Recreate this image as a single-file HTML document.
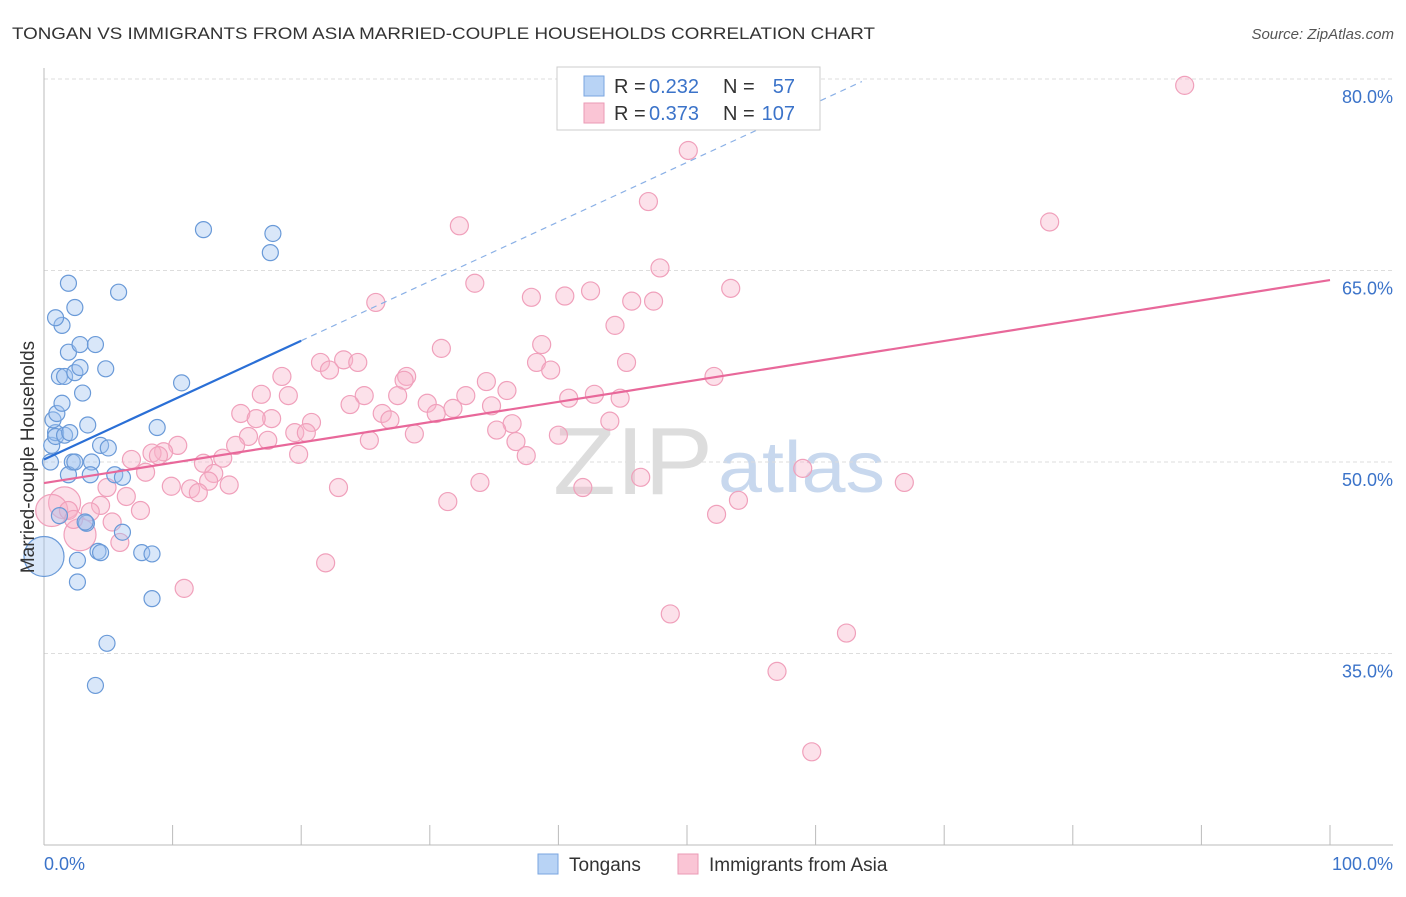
<!DOCTYPE html>
<html><head><meta charset="utf-8">
<style>
body{margin:0;background:#fff;font-family:"Liberation Sans",sans-serif;}
svg text{font-family:"Liberation Sans",sans-serif;}
</style></head>
<body>
<svg id="chart" width="1406" height="892" xmlns="http://www.w3.org/2000/svg">
<text x="12" y="39" font-size="17" fill="#333" textLength="863" lengthAdjust="spacingAndGlyphs">TONGAN VS IMMIGRANTS FROM ASIA MARRIED-COUPLE HOUSEHOLDS CORRELATION CHART</text>
<text x="1394" y="39" font-size="15" fill="#555" font-style="italic" text-anchor="end">Source: ZipAtlas.com</text>
<text x="553" y="494" font-size="96" fill="#ddd" font-family="Liberation Serif" textLength="160" lengthAdjust="spacingAndGlyphs">ZIP</text>
<text x="718" y="492" font-size="72" fill="#c8d8ee" textLength="167" lengthAdjust="spacingAndGlyphs">atlas</text>
<g id="grid"></g><g id="axes"></g><g id="pts"></g><g id="lines"></g>
<text transform="translate(34,457) rotate(-90)" font-size="19" fill="#333" text-anchor="middle">Married-couple Households</text>
<g>
<rect x="557" y="67" width="263" height="63" fill="#fff" stroke="#ccc"/>
<rect x="584" y="76" width="20" height="20" fill="#b8d3f5" stroke="#7aa6e0"/>
<rect x="584" y="103" width="20" height="20" fill="#fac5d5" stroke="#eb9ab5"/>
<text x="614" y="93" font-size="20" fill="#333">R =</text><text x="649" y="93" font-size="20" fill="#3b73c9">0.232</text>
<text x="723" y="93" font-size="20" fill="#333">N =</text><text x="795" y="93" font-size="20" fill="#3b73c9" text-anchor="end">57</text>
<text x="614" y="120" font-size="20" fill="#333">R =</text><text x="649" y="120" font-size="20" fill="#3b73c9">0.373</text>
<text x="723" y="120" font-size="20" fill="#333">N =</text><text x="795" y="120" font-size="20" fill="#3b73c9" text-anchor="end">107</text>
</g>
<g>
<rect x="538" y="854" width="20" height="20" fill="#b8d3f5" stroke="#7aa6e0"/>
<text x="569" y="871" font-size="19" fill="#333">Tongans</text>
<rect x="678" y="854" width="20" height="20" fill="#fac5d5" stroke="#eb9ab5"/>
<text x="709" y="871" font-size="19" fill="#333">Immigrants from Asia</text>
</g>
</svg>
<script>
const yTicks=[35,50,65,80];
const blueX=[0,0.5,0.6,0.9,0.7,1.0,1.4,0.9,1.6,2.0,2.2,1.9,2.4,1.2,1.6,2.4,2.8,1.9,2.8,4.0,4.8,1.4,0.9,2.4,1.9,5.8,3.0,3.4,3.7,3.6,4.4,5.0,5.5,6.1,3.3,4.2,4.4,2.6,2.6,6.1,7.6,8.4,8.4,4.9,4.0,10.7,8.8,12.4,17.8,17.6,1.2,3.2];
const blueY=[42.6,50,51.3,52.3,53.3,53.8,54.6,52.0,52.1,52.3,50,49.0,50,56.7,56.7,57.0,57.4,58.6,59.2,59.2,57.3,60.7,61.3,62.1,64.0,63.3,55.4,52.9,50,49.0,51.3,51.1,49.0,48.8,45.2,43.0,42.9,42.3,40.6,44.5,42.9,42.8,39.3,35.8,32.5,56.2,52.7,68.2,67.9,66.4,45.8,45.3];
const pinkX=[88.7,50.1,47.0,78.2,32.3,47.9,33.5,42.5,53.4,37.9,40.5,45.7,47.4,25.8,44.4,30.9,38.7,21.5,23.3,24.4,22.2,38.3,39.4,45.3,18.5,28.2,28.0,34.4,36.0,32.8,24.9,16.9,19.0,27.5,42.8,44.8,40.8,52.1,23.8,29.8,31.8,34.8,15.3,17.7,26.3,30.5,26.9,20.8,16.5,44.0,36.4,35.2,28.8,19.5,15.9,17.4,20.4,25.3,36.7,40.0,14.9,10.4,9.3,8.4,8.9,19.8,37.5,13.9,6.8,12.4,7.9,13.2,12.8,14.4,9.9,11.4,12.0,4.9,22.9,33.9,41.9,46.4,59.0,66.9,54.0,31.4,52.3,6.4,4.4,1.6,0.6,1.9,3.6,7.5,5.3,2.8,5.9,2.3,10.9,21.9,48.7,62.4,57.0,59.7];
const pinkY=[79.5,74.4,70.4,68.8,68.5,65.2,64.0,63.4,63.6,62.9,63.0,62.6,62.6,62.5,60.7,58.9,59.2,57.8,58.0,57.8,57.2,57.8,57.2,57.8,56.7,56.7,56.4,56.3,55.6,55.2,55.2,55.3,55.2,55.2,55.3,55.0,55.0,56.7,54.5,54.6,54.2,54.4,53.8,53.4,53.8,53.8,53.3,53.1,53.4,53.2,53.0,52.5,52.2,52.3,52.0,51.7,52.3,51.7,51.6,52.1,51.3,51.3,50.8,50.7,50.5,50.6,50.5,50.3,50.2,49.9,49.2,49.1,48.5,48.2,48.1,47.9,47.6,48.0,48.0,48.4,48.0,48.8,49.5,48.4,47.0,46.9,45.9,47.3,46.6,46.8,46.2,46.2,46.1,46.2,45.3,44.3,43.7,45.5,40.1,42.1,38.1,36.6,33.6,27.3];
const blueBig=[0];const pinkBig=[89,90,95];
const blueTrend=[[0,50.2],[20,59.5]];const blueDash=[[20,59.5],[63.6,79.8]];
const pinkTrend=[[0,48.35],[100,64.25]];
const X=v=>44+v*12.86, Y=v=>462-(v-50)*12.767;
const NS='http://www.w3.org/2000/svg';
function mk(t,a,p){const e=document.createElementNS(NS,t);for(const k in a)e.setAttribute(k,a[k]);p.appendChild(e);return e;}
const grid=document.getElementById('grid'),axes=document.getElementById('axes'),pts=document.getElementById('pts'),lines=document.getElementById('lines');
yTicks.forEach(t=>{const l=mk('line',{x1:44,x2:1393,y1:Y(t),y2:Y(t),stroke:'#ddd','stroke-dasharray':'4,3'},grid);


const tx=mk('text',{x:1393,y:Y(t)+24,'font-size':18,fill:'#3b73c9','text-anchor':'end'},axes);tx.textContent=t.toFixed(1)+'%';

});
mk('line',{x1:44,x2:44,y1:68,y2:845,stroke:'#bbb'},axes);
mk('line',{x1:44,x2:1393,y1:845,y2:845,stroke:'#bbb'},axes);
for(let i=0;i<=10;i++)mk('line',{x1:X(i*10),x2:X(i*10),y1:825,y2:845,stroke:'#bbb'},axes);
let t0=mk('text',{x:44,y:870,'font-size':18,fill:'#3b73c9'},axes);t0.textContent='0.0%';

let t1=mk('text',{x:1393,y:870,'font-size':18,fill:'#3b73c9','text-anchor':'end'},axes);t1.textContent='100.0%';

pinkX.forEach((v,i)=>{const c=mk('circle',{cx:X(v),cy:Y(pinkY[i]),r:pinkBig.includes(i)?16:9,fill:'rgba(248,180,202,0.4)',stroke:'#f0a0bb','stroke-width':1.2},pts);

});
blueX.forEach((v,i)=>{const c=mk('circle',{cx:X(v),cy:Y(blueY[i]),r:blueBig.includes(i)?20:8,fill:'rgba(160,195,240,0.4)',stroke:'#6a9ad8','stroke-width':1.2},pts);

});
let l1=mk('line',{x1:X(blueTrend[0][0]),y1:Y(blueTrend[0][1]),x2:X(blueTrend[1][0]),y2:Y(blueTrend[1][1]),stroke:'#2a6fd6','stroke-width':2.2},lines);

let l2=mk('line',{x1:X(blueDash[0][0]),y1:Y(blueDash[0][1]),x2:X(blueDash[1][0]),y2:Y(blueDash[1][1]),stroke:'#8ab0e6','stroke-width':1.2,'stroke-dasharray':'6,5'},lines);

let l3=mk('line',{x1:X(pinkTrend[0][0]),y1:Y(pinkTrend[0][1]),x2:X(pinkTrend[1][0]),y2:Y(pinkTrend[1][1]),stroke:'#e8689a','stroke-width':2.2},lines);

</script>
</body></html>
